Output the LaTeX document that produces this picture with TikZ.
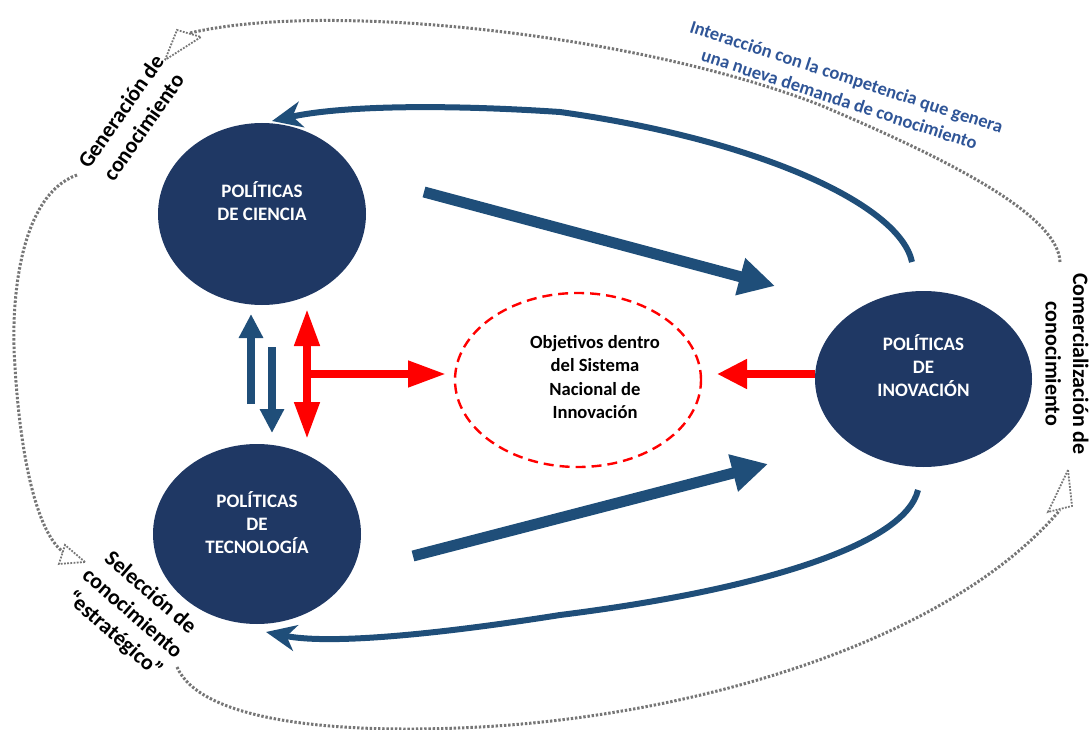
\documentclass[tikz,border=0pt]{standalone}
\usepackage{fontspec}
\setmainfont{Carlito}
\usetikzlibrary{arrows.meta,shapes.geometric}
\definecolor{navy}{RGB}{31,56,100}
\definecolor{steel}{RGB}{31,78,121}
\definecolor{loopgray}{RGB}{118,118,118}
\definecolor{noteblue}{RGB}{47,85,151}
\begin{document}
\begin{tikzpicture}[x=1pt,y=-1pt,
  policy/.style={ellipse, fill=navy, inner sep=0pt},
  policytext/.style={text=white, font=\bfseries\fontsize{19}{23}\selectfont, align=center},
  goal/.style={ellipse, draw=red, line width=2.4pt, dash pattern=on 10pt off 6pt, inner sep=0pt},
  goaltext/.style={font=\bfseries\fontsize{18.6}{23.5}\selectfont, align=center},
  phase/.style={font=\bfseries\fontsize{22}{27.5}\selectfont, align=center},
  note/.style={text=noteblue, font=\bfseries\fontsize{18.5}{23.5}\selectfont, align=center},
  bigflow/.style={draw=steel, line width=11pt, -{Triangle[length=36pt,width=36pt]}},
  loopflow/.style={draw=steel, line width=6pt, -{Stealth[length=30pt,width=26pt,inset=9pt]}},
  redflow/.style={draw=red, line width=7.5pt},
  blueflow/.style={draw=steel, line width=7.5pt, -{Triangle[length=24pt,width=23pt]}},
  cycleline/.style={draw=loopgray, line width=3pt, dash pattern=on 2.4pt off 1.8pt},
  cyclehead/.style={draw=loopgray, line width=1.8pt, dash pattern=on 1.8pt off 1.4pt}
]
\useasboundingbox (0,0) rectangle (1090,730);

% policy areas
\node[policy, minimum width=208pt, minimum height=182pt] (ciencia) at (262,214) {};
\node[policy, minimum width=208pt, minimum height=180pt] (tecno) at (257,534) {};
\node[policy, minimum width=217pt, minimum height=176pt] (inova) at (923.5,379) {};
\node[policytext] (cienciaT) at (262,201) {POLÍTICAS\\DE CIENCIA};
\node[policytext] (tecnoT) at (257,523) {POLÍTICAS\\DE\\TECNOLOGÍA};
\node[policytext] (inovaT) at (923.5,366) {POLÍTICAS\\DE\\INOVACIÓN};

% central goals
\node[goal, minimum width=246pt, minimum height=174pt] (goal) at (578,380) {};
\node[goaltext] (goalT) at (595,377) {Objetivos dentro\\del Sistema\\Nacional de\\Innovación};

% end points of the connectors
\coordinate (cOut) at (424,192);
\coordinate (iInA) at (775,286);
\coordinate (tOut) at (413,556);
\coordinate (iInB) at (768,464);
\coordinate (iTop) at (912,262);
\coordinate (cTop) at (272,121);
\coordinate (iBot) at (918,490);
\coordinate (tBot) at (266,632);
\coordinate (upS) at (251,404);
\coordinate (upE) at (251,314);
\coordinate (dnS) at (272,347);
\coordinate (dnE) at (272,433);
\coordinate (vTop) at (307,309);
\coordinate (vBot) at (307,439);
\coordinate (vMid) at (307,374);
\coordinate (gIn) at (446,374);
\coordinate (iOut) at (815,374);
\coordinate (gInR) at (717,374);

% straight flows towards innovation
\draw[bigflow] (cOut) -- (iInA);
\draw[bigflow] (tOut) -- (iInB);

% feedback loops from innovation
\draw[loopflow] (iTop) .. controls (900,205) and (760,140) .. (560,112)
                       .. controls (440,104) and (340,106) .. (cTop);
\draw[loopflow] (iBot) .. controls (905,545) and (760,590) .. (560,615)
                       .. controls (440,634) and (330,645) .. (tBot);

% science <-> technology
\draw[blueflow] (upS) -- (upE);
\draw[blueflow] (dnS) -- (dnE);

% red links into the goals
\draw[redflow, {Triangle[length=37pt,width=24pt]}-{Triangle[length=37pt,width=24pt]}] (vTop) -- (vBot);
\draw[redflow, -{Triangle[length=38pt,width=25pt]}] (vMid) -- (gIn);
\draw[redflow, -{Triangle[length=30pt,width=28pt]}] (iOut) -- (gInR);

% outer knowledge cycle
\coordinate (topS) at (1060,262);
\coordinate (topE) at (190,33);
\coordinate (leftS) at (77,175);
\coordinate (leftE) at (63,552);
\coordinate (botS) at (177,667);
\coordinate (botE) at (1060,510);
\draw[cycleline] (topS) .. controls (1058,215) and (950,160) .. (820,105)
                        .. controls (640,35) and (330,0) .. (topE);
\draw[cyclehead] (165,60) -- (177,30) -- (201,37) -- cycle;
\draw[cycleline] (leftS) .. controls (20,195) and (10,300) .. (15,367)
                         .. controls (20,450) and (35,530) .. (leftE);
\draw[cyclehead] (85,562) -- (65,545) -- (59,564) -- cycle;
\draw[cycleline] (botS) .. controls (200,720) and (330,735) .. (480,727)
                        .. controls (700,715) and (950,640) .. (botE);
\draw[cyclehead] (1068,470) -- (1048,512) -- (1072,506) -- cycle;

% cycle stage labels
\node[phase, rotate=55] (genT) at (132,119) {Generación de\\conocimiento};
\node[phase, rotate=-41] (selT) at (132,614) {Selección de\\conocimiento\\“estratégico”};
\node[phase, rotate=-90] (comT) at (1067,364) {Comercialización de\\conocimiento};
\node[note, rotate=-18] (intT) at (843,88) {Interacción con la competencia que genera\\una nueva demanda de conocimiento};
\end{tikzpicture}
\end{document}
